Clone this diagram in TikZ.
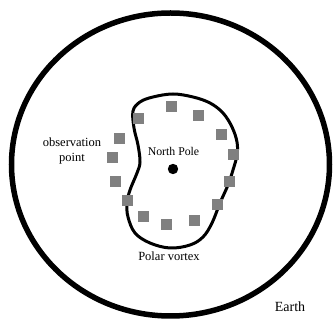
\documentclass[tikz,border=0pt]{standalone}
\usepackage{fontspec}
\setmainfont{Liberation Serif}
\begin{document}
\begin{tikzpicture}[x=1pt,y=-1pt,
  obs/.style={draw=none,fill=black!50,minimum size=11pt,inner sep=0pt},
  lbl/.style={inner sep=0pt,font=\fontsize{12.5}{14}\selectfont}]
\useasboundingbox (0,0) rectangle (333,320);
\draw[line width=5.5pt] (170.5,164.5) ellipse [x radius=159, y radius=151.5];
\draw[line width=3pt] plot[smooth cycle, tension=0.6] coordinates {
 (133,111) (140,102) (153,97) (173,94) (193,97) (210,103) (223,113) (232,127)
 (237,142) (237,155) (233,170) (228,185) (220,203) (212,223) (203,237) (190,245)
 (170,248) (150,243) (135,233) (128,217) (127,203) (130,190) (137,173)
 (140,162) (138,145) (134,128)};
\foreach \p [count=\i] in {(138,119),(171,107),(198,116),(221,135),(233,155),(229,182),(217,205),(194,221),(166,225),(143,217),(127,201),(115,182),(112,158),(119,139)}
  \node[obs] (s\i) at \p {};
\fill (173,169) circle (5.2pt) coordinate (pole);
\node[lbl,font=\fontsize{11.8}{14}\selectfont] (np) at (173.5,151) {North Pole};
\node[lbl,align=center,font=\fontsize{12.5}{14.5}\selectfont] (op) at (72,151) {observation\\point};
\node[lbl] (pv) at (169,256) {Polar vortex};
\node[lbl,font=\fontsize{14}{16}\selectfont] (earth) at (290,307) {Earth};
\end{tikzpicture}
\end{document}
